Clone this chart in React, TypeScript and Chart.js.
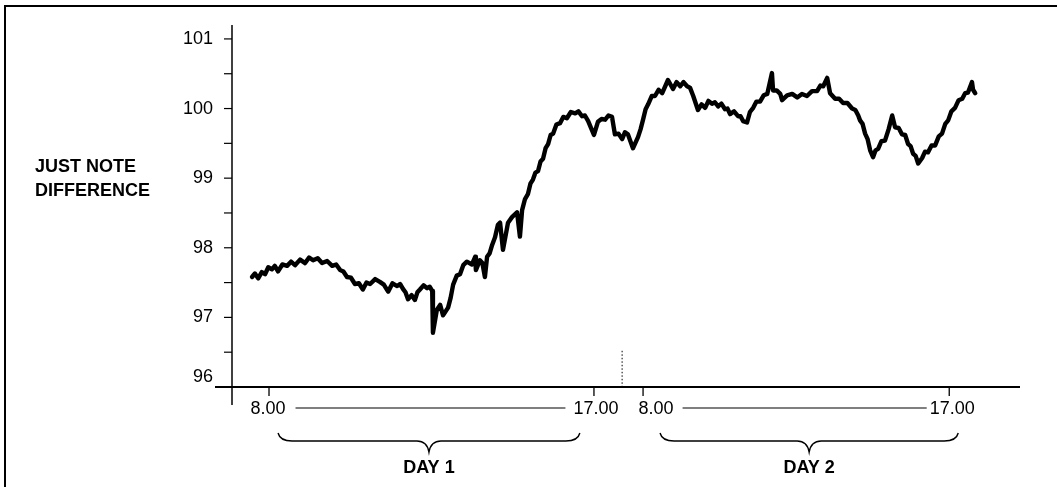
import React, { useEffect, useRef } from "react";
import { Chart, registerables } from "chart.js";

Chart.register(...registerables);

// Recording time in hours (day 2 continues after the overnight break)
const day1Hours = [
  7.53, 7.61, 7.7, 7.8, 7.89, 7.98, 8.08, 8.16, 8.25, 8.37, 8.5, 8.61, 8.72, 8.86, 9.0, 9.11,
  9.22, 9.35, 9.47, 9.61, 9.75, 9.86, 9.97, 10.06, 10.16, 10.27, 10.38, 10.49, 10.6, 10.7, 10.8,
  10.94, 11.07, 11.18, 11.3, 11.42, 11.55, 11.63, 11.71, 11.78, 11.85, 11.95, 12.04, 12.11, 12.18,
  12.28, 12.38, 12.45, 12.52, 12.54, 12.65, 12.74, 12.82, 12.96, 13.03, 13.1, 13.2, 13.29, 13.38,
  13.48, 13.62, 13.71, 13.73, 13.84, 13.91, 13.98, 14.04, 14.11, 14.18, 14.26, 14.34, 14.4, 14.48,
  14.62, 14.73, 14.87, 14.95, 15.01, 15.09, 15.17, 15.24, 15.31, 15.38, 15.45, 15.52, 15.59, 15.66,
  15.73, 15.8, 15.87, 15.96, 16.06, 16.15, 16.25, 16.36, 16.48, 16.57, 16.67, 16.75, 16.84, 17.0,
  17.11, 17.21, 17.31, 17.4, 17.5, 17.58, 17.68, 17.78, 17.86, 17.94, 18.08, 18.22, 18.29,
];
const day1Jnd = [
  97.58, 97.63, 97.56, 97.65, 97.62, 97.72, 97.69, 97.74, 97.66, 97.76, 97.74, 97.8, 97.75, 97.83,
  97.78, 97.86, 97.82, 97.85, 97.78, 97.81, 97.74, 97.76, 97.68, 97.66, 97.58, 97.57, 97.48, 97.49,
  97.4, 97.5, 97.48, 97.55, 97.51, 97.47, 97.37, 97.49, 97.45, 97.48, 97.41, 97.36, 97.26, 97.32,
  97.25, 97.36, 97.4, 97.46, 97.42, 97.44, 97.38, 96.78, 97.11, 97.18, 97.03, 97.14, 97.28, 97.47,
  97.6, 97.62, 97.75, 97.8, 97.76, 97.87, 97.68, 97.82, 97.78, 97.58, 97.87, 97.92, 98.04, 98.15,
  98.33, 98.36, 97.97, 98.36, 98.44, 98.51, 98.16, 98.54, 98.7, 98.77, 98.92, 98.98, 99.08, 99.1,
  99.24, 99.28, 99.43, 99.49, 99.62, 99.64, 99.77, 99.79, 99.88, 99.86, 99.95, 99.93, 99.96, 99.89,
  99.9, 99.82, 99.62, 99.81, 99.85, 99.84, 99.9, 99.88, 99.63, 99.64, 99.56, 99.66, 99.63, 99.43,
  99.59, 99.7,
];
const day2Hours = [
  18.36, 18.43, 18.5, 18.6, 18.69, 18.79, 18.89, 19.05, 19.19, 19.29, 19.39, 19.48, 19.58, 19.66,
  19.75, 19.88, 19.98, 20.08, 20.17, 20.27, 20.35, 20.44, 20.53, 20.63, 20.7, 20.77, 20.88, 20.99,
  21.06, 21.13, 21.24, 21.32, 21.41, 21.5, 21.6, 21.7, 21.8, 21.93, 21.96, 22.06, 22.16, 22.21,
  22.35, 22.49, 22.63, 22.76, 22.9, 23.04, 23.18, 23.27, 23.35, 23.46, 23.54, 23.68, 23.79, 23.9,
  24.02, 24.15, 24.24, 24.32, 24.37, 24.44, 24.51, 24.58, 24.65, 24.73, 24.8, 24.87, 24.96, 25.06,
  25.16, 25.26, 25.34, 25.44, 25.53, 25.62, 25.7, 25.77, 25.84, 25.91, 25.98, 26.09, 26.17, 26.25,
  26.35, 26.45, 26.55, 26.64, 26.73, 26.81, 26.9, 27.0, 27.1, 27.2, 27.28, 27.36, 27.47, 27.5, 27.56,
];
const day2Jnd = [
  99.84, 99.99, 100.06, 100.18, 100.18, 100.27, 100.22, 100.41, 100.28, 100.38, 100.32, 100.38,
  100.32, 100.3, 100.18, 99.98, 100.06, 100.01, 100.11, 100.07, 100.09, 100.03, 100.07, 99.99,
  100.0, 99.92, 99.96, 99.89, 99.89, 99.82, 99.8, 99.95, 100.01, 100.1, 100.1, 100.19, 100.21,
  100.51, 100.26, 100.26, 100.21, 100.12, 100.19, 100.21, 100.16, 100.21, 100.18, 100.25, 100.25,
  100.33, 100.32, 100.44, 100.22, 100.14, 100.14, 100.08, 100.08, 100.0, 99.98, 99.9, 99.83, 99.78,
  99.64, 99.56, 99.4, 99.3, 99.4, 99.42, 99.53, 99.54, 99.7, 99.9, 99.73, 99.72, 99.63, 99.62,
  99.49, 99.46, 99.35, 99.32, 99.21, 99.29, 99.38, 99.37, 99.47, 99.47, 99.6, 99.64, 99.78, 99.83,
  99.96, 100.01, 100.12, 100.14, 100.22, 100.23, 100.38, 100.27, 100.22,
];

const yTickValues = [96, 97, 98, 99, 100, 101];
const yMinorTickValues = [96.5, 97.5, 98.5, 99.5, 100.5];
const xTickValues = [8, 17, 18.36, 26.84];
const xTickLabels = ["8.00", "17.00", "8.00", "17.00"];
const dayLabels = ["DAY 1", "DAY 2"];
const yTitleLines = ["JUST NOTE", "DIFFERENCE"];

const tickFont = "18px 'Liberation Sans', Arial, sans-serif";
const boldFont = "bold 18px 'Liberation Sans', Arial, sans-serif";

const decorPlugin = {
  id: "decor",
  afterDraw(chart: any) {
    const ctx: CanvasRenderingContext2D = chart.ctx;
    const xs = chart.scales.x;
    const ys = chart.scales.y;
    const area = chart.chartArea;
    const X = (v: number) => xs.getPixelForValue(v);
    const Y = (v: number) => ys.getPixelForValue(v);
    const bottom = area.bottom;
    ctx.save();
    ctx.strokeStyle = "#000";
    ctx.fillStyle = "#000";

    // frame
    ctx.lineWidth = 2;
    ctx.beginPath();
    ctx.moveTo(5, chart.height);
    ctx.lineTo(5, 6);
    ctx.lineTo(chart.width, 6);
    ctx.stroke();

    // y axis
    ctx.lineWidth = 1.5;
    ctx.beginPath();
    ctx.moveTo(area.left, area.top);
    ctx.lineTo(area.left, bottom + 18);
    ctx.stroke();
    ctx.lineWidth = 1.2;
    [...yTickValues, ...yMinorTickValues].forEach((v) => {
      ctx.beginPath();
      ctx.moveTo(area.left - 8, Y(v));
      ctx.lineTo(area.left, Y(v));
      ctx.stroke();
    });
    ctx.font = tickFont;
    ctx.textAlign = "right";
    ctx.textBaseline = "middle";
    yTickValues.forEach((v) => {
      const off = v === yTickValues[0] ? -10 : 0;
      ctx.fillText(String(v), area.left - 19, Y(v) + off);
    });

    // x axis
    ctx.lineWidth = 1.8;
    ctx.beginPath();
    ctx.moveTo(area.left - 17, bottom);
    ctx.lineTo(area.right, bottom);
    ctx.stroke();
    ctx.lineWidth = 1.3;
    xTickValues.forEach((v) => {
      ctx.beginPath();
      ctx.moveTo(X(v), bottom);
      ctx.lineTo(X(v), bottom + 9);
      ctx.stroke();
    });

    // dotted marker at the overnight break
    ctx.lineWidth = 1;
    ctx.setLineDash([1.5, 2]);
    ctx.beginPath();
    ctx.moveTo(X(17.78), Y(96.52));
    ctx.lineTo(X(17.78), bottom);
    ctx.stroke();
    ctx.setLineDash([]);

    // x tick labels with connecting lines
    const labelOffsets = [-1, 2, 13, 3];
    const ly = bottom + 21;
    ctx.font = tickFont;
    ctx.textAlign = "center";
    ctx.textBaseline = "middle";
    const extents: number[][] = [];
    xTickLabels.forEach((t, i) => {
      const cx = X(xTickValues[i]) + labelOffsets[i];
      ctx.fillText(t, cx, ly + 1);
      const w = ctx.measureText(t).width;
      extents.push([cx - w / 2, cx + w / 2]);
    });
    ctx.lineWidth = 1.1;
    [[0, 1], [2, 3]].forEach(([a, b], k) => {
      const x0 = extents[a][1] + (k === 0 ? 10 : 9);
      const x1 = extents[b][0] - (k === 0 ? 8 : 3);
      ctx.beginPath();
      ctx.moveTo(x0, ly);
      ctx.lineTo(x1, ly);
      ctx.stroke();
    });

    // braces
    const braces = [
      [8.25, 16.61],
      [18.83, 27.09],
    ];
    const by = bottom + 54;
    ctx.lineWidth = 1.4;
    braces.forEach(([a, b], i) => {
      const x0 = X(a);
      const x1 = X(b);
      const xm = (x0 + x1) / 2;
      ctx.beginPath();
      ctx.moveTo(x0, by - 8);
      ctx.quadraticCurveTo(x0 + 2, by, x0 + 14, by);
      ctx.lineTo(xm - 12, by);
      ctx.quadraticCurveTo(xm - 2, by, xm, by + 11);
      ctx.quadraticCurveTo(xm + 2, by, xm + 12, by);
      ctx.lineTo(x1 - 14, by);
      ctx.quadraticCurveTo(x1 - 2, by, x1, by - 8);
      ctx.stroke();
      ctx.font = boldFont;
      ctx.textAlign = "center";
      ctx.fillText(dayLabels[i], xm, bottom + 81);
    });

    // y title
    ctx.font = boldFont;
    ctx.textAlign = "left";
    ctx.textBaseline = "middle";
    ctx.fillText(yTitleLines[0], 35, Y(99) - 11);
    ctx.fillText(yTitleLines[1], 35, Y(99) + 13);

    ctx.restore();
  },
};

export default function App() {
  const ref = useRef<HTMLCanvasElement | null>(null);
  useEffect(() => {
    if (!ref.current) return;
    const hours = [...day1Hours, ...day2Hours];
    const jnd = [...day1Jnd, ...day2Jnd];
    const chart = new Chart(ref.current, {
      type: "line",
      data: {
        datasets: [
          {
            label: "Just note difference",
            data: hours.map((h, i) => ({ x: h, y: jnd[i] })),
            borderColor: "#000",
            borderWidth: 4.4,
            pointRadius: 0,
            tension: 0,
            borderJoinStyle: "round",
            borderCapStyle: "round",
          },
        ],
      },
      options: {
        responsive: false,
        animation: false,
        layout: { padding: { left: 232, right: 37, top: 25, bottom: 100 } },
        plugins: { legend: { display: false }, tooltip: { enabled: false } },
        scales: {
          x: { type: "linear", min: 6.975, max: 28.8, display: false },
          y: { type: "linear", min: 96, max: 101.2, display: false },
        },
      },
      plugins: [decorPlugin],
    });
    return () => chart.destroy();
  }, []);
  return (
    <div style={{ position: "fixed", left: 0, top: 0, width: 1057, height: 487, background: "#fff" }}>
      <canvas ref={ref} width={1057} height={487} style={{ display: "block" }} />
    </div>
  );
}
